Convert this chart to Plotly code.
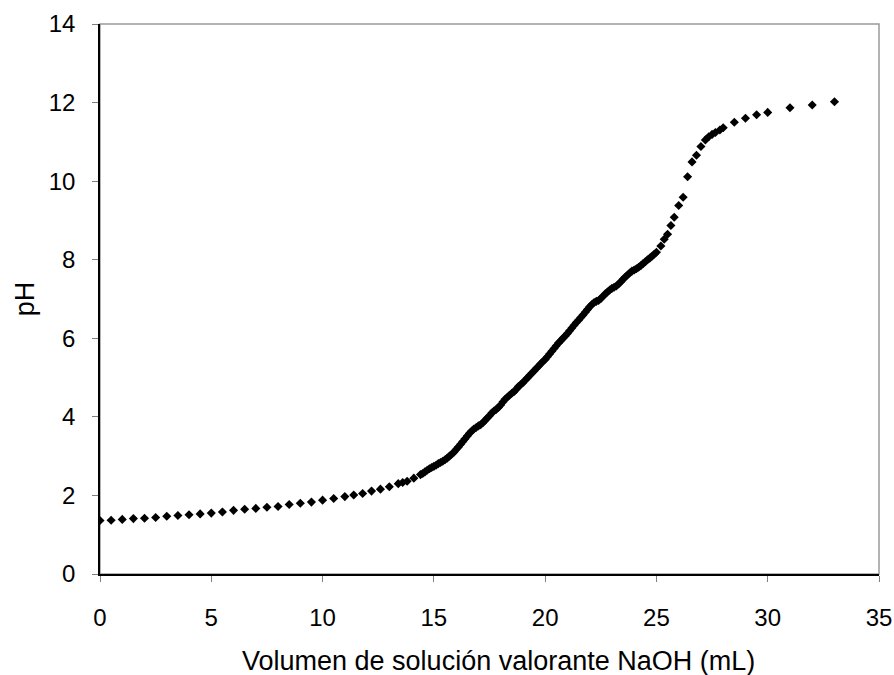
import plotly.graph_objects as go

# Titration of an acid with NaOH: added volume (mL) and measured pH
volume_ml = [
    0.0, 0.5, 1.0, 1.5, 2.0, 2.5, 3.0, 3.5, 4.0, 4.5, 5.0, 5.5, 6.0, 6.5, 7.0, 7.5,
    8.0, 8.5, 9.0, 9.5, 10.0, 10.5, 11.0, 11.4, 11.8, 12.2, 12.6, 13.0, 13.4, 13.6,
    13.8, 14.1,
    14.4, 14.5, 14.6, 14.7, 14.8, 14.9, 15.0, 15.1, 15.2, 15.3, 15.4, 15.5, 15.6,
    15.7, 15.8, 15.9, 16.0, 16.1, 16.2, 16.3, 16.4, 16.5, 16.6, 16.7, 16.8, 16.9,
    17.0, 17.1, 17.2, 17.3, 17.4, 17.5, 17.6, 17.7, 17.8, 17.9, 18.0, 18.1, 18.2,
    18.3, 18.4, 18.5, 18.6, 18.7, 18.8, 18.9, 19.0, 19.1, 19.2, 19.3, 19.4, 19.5,
    19.6, 19.7, 19.8, 19.9, 20.0, 20.1, 20.2, 20.3, 20.4, 20.5, 20.6, 20.7, 20.8,
    20.9, 21.0, 21.1, 21.2, 21.3, 21.4, 21.5, 21.6, 21.7, 21.8, 21.9, 22.0, 22.1,
    22.2, 22.3, 22.4, 22.5, 22.6, 22.7, 22.8, 22.9, 23.0, 23.1, 23.2, 23.3, 23.4,
    23.5, 23.6, 23.7, 23.8, 23.9, 24.0, 24.1, 24.2, 24.3, 24.4, 24.5, 24.6, 24.7,
    24.8, 24.9, 25.0,
    25.2, 25.35, 25.5, 25.65, 25.8, 26.0, 26.2, 26.4, 26.6, 26.8, 27.0, 27.2,
    27.35, 27.5, 27.65, 27.85, 28.0, 28.5, 29.0, 29.5, 30.0, 31.0, 32.0, 33.0,
]

ph_values = [
    1.36, 1.37, 1.39, 1.41, 1.42, 1.44, 1.47, 1.49, 1.51, 1.53, 1.55, 1.58, 1.62, 1.65, 1.67, 1.70,
    1.72, 1.77, 1.80, 1.83, 1.88, 1.92, 1.97, 2.01, 2.05, 2.11, 2.16, 2.22, 2.30, 2.33,
    2.36, 2.44,
    2.53, 2.56, 2.60, 2.64, 2.68, 2.71, 2.74, 2.77, 2.81, 2.84, 2.87, 2.91, 2.95,
    3.00, 3.05, 3.10, 3.17, 3.23, 3.30, 3.37, 3.44, 3.51, 3.58, 3.64, 3.69, 3.73,
    3.77, 3.80, 3.85, 3.91, 3.97, 4.03, 4.10, 4.15, 4.19, 4.24, 4.30, 4.38, 4.45,
    4.50, 4.55, 4.60, 4.64, 4.70, 4.77, 4.82, 4.87, 4.93, 4.99, 5.05, 5.11, 5.17,
    5.23, 5.29, 5.35, 5.41, 5.46, 5.53, 5.60, 5.67, 5.74, 5.81, 5.88, 5.94, 6.00,
    6.06, 6.12, 6.19, 6.26, 6.33, 6.40, 6.46, 6.53, 6.59, 6.66, 6.73, 6.80, 6.86,
    6.91, 6.94, 6.96, 7.01, 7.07, 7.13, 7.18, 7.23, 7.27, 7.30, 7.33, 7.38, 7.44,
    7.50, 7.56, 7.61, 7.66, 7.71, 7.74, 7.77, 7.81, 7.85, 7.90, 7.95, 8.00, 8.04,
    8.09, 8.14, 8.19,
    8.35, 8.52, 8.65, 8.87, 9.08, 9.38, 9.59, 10.11, 10.49, 10.66, 10.88, 11.05,
    11.13, 11.19, 11.24, 11.30, 11.36, 11.50, 11.60, 11.69, 11.75, 11.87, 11.94, 12.02,
]

x_ticks = [0, 5, 10, 15, 20, 25, 30, 35]
y_ticks = [0, 2, 4, 6, 8, 10, 12, 14]

font_family = "Liberation Sans, Arial, sans-serif"
tick_size = 24
title_size = 27

fig = go.Figure()
fig.add_trace(go.Scatter(
    x=volume_ml,
    y=ph_values,
    mode="markers",
    marker=dict(symbol="diamond", size=7, color="black", line=dict(width=0)),
    showlegend=False,
))

# gray frame around the plotting area (top and right edges visible)
fig.add_shape(
    type="rect", xref="paper", yref="paper", x0=0, y0=0, x1=1, y1=1,
    line=dict(color="#9a9a9a", width=1.5), layer="below",
)

# x-axis caption, centred slightly right of the plot centre
fig.add_annotation(
    text="Volumen de solución valorante NaOH (mL)",
    xref="paper", yref="paper", x=0.511, y=-0.158,
    xanchor="center", yanchor="middle", showarrow=False,
    font=dict(family=font_family, size=title_size, color="black"),
)

axis_common = dict(
    showgrid=False,
    zeroline=False,
    showline=True,
    linecolor="black",
    linewidth=1.5,
    ticks="outside",
    ticklen=6,
    tickwidth=1,
    tickcolor="#808080",
    tickfont=dict(family=font_family, size=tick_size, color="black"),
    automargin=False,
)

fig.update_xaxes(
    range=[0, 35],
    tickvals=x_ticks,
    ticktext=[str(v) for v in x_ticks],
    ticklabelstandoff=15,
    **axis_common,
)
fig.update_yaxes(
    range=[0, 14],
    tickvals=y_ticks,
    ticktext=[str(v) for v in y_ticks],
    title=dict(text="pH", font=dict(family=font_family, size=title_size, color="black"), standoff=6),
    ticklabelstandoff=12,
    **axis_common,
)

fig.update_layout(
    width=894,
    height=675,
    margin=dict(l=100, r=15, t=24, b=101),
    paper_bgcolor="white",
    plot_bgcolor="white",
    font=dict(family=font_family, color="black"),
)

fig.write_html("out.html")
